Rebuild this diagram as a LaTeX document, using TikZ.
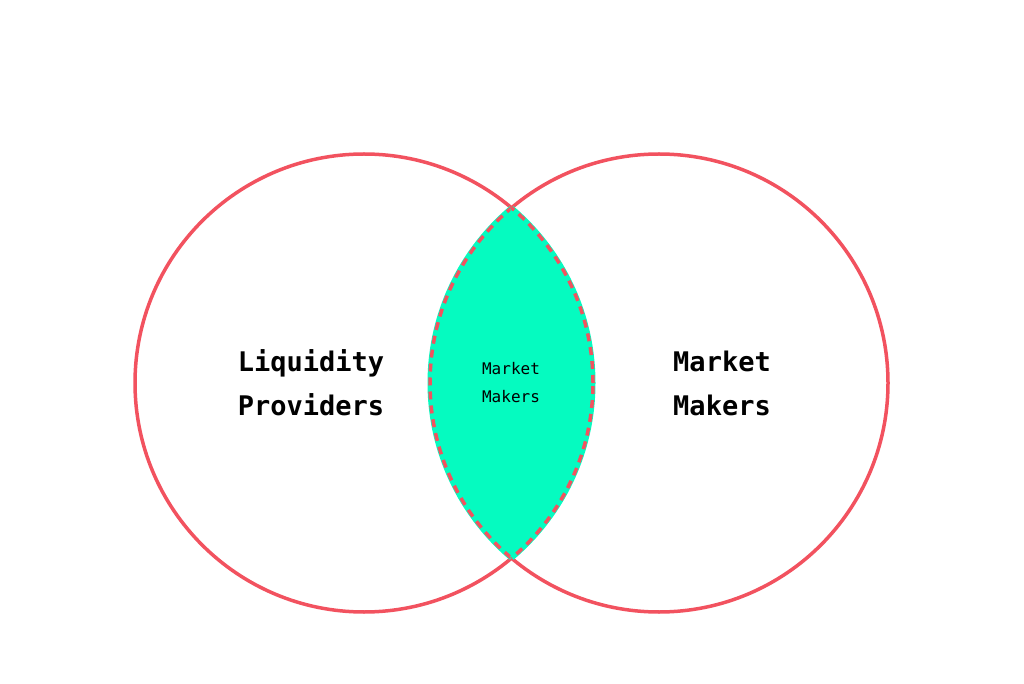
\documentclass[tikz,border=0pt]{standalone}
\usepackage{fontspec}
\setmonofont{DejaVu Sans Mono}
\definecolor{cred}{HTML}{F2525F}
\definecolor{cgreen}{HTML}{05FBC0}
\begin{document}
\begin{tikzpicture}[x=1pt,y=1pt,
  ring/.style={draw=cred,line width=3.5pt},
  big/.style={font=\ttfamily\bfseries\fontsize{27}{44}\selectfont,align=left},
  small/.style={font=\ttfamily\fontsize{16}{28}\selectfont,align=center}]
\useasboundingbox (0,0) rectangle (1024,683);
\coordinate (cl) at (364,300);
\coordinate (cr) at (659,300);
\draw[ring] (cl) circle (229);
\draw[ring] (cr) circle (229);
\begin{scope}
  \clip (cl) circle (229);
  \fill[cgreen] (cr) circle (229);
  \draw[cgreen,line width=5pt] (cr) circle (229);
  \draw[cred,line width=3.5pt,dash pattern=on 8pt off 6pt] (cr) circle (229);
\end{scope}
\begin{scope}
  \clip (cr) circle (229);
  \draw[cgreen,line width=5pt] (cl) circle (229);
  \draw[cred,line width=3.5pt,dash pattern=on 8pt off 6pt] (cl) circle (229);
\end{scope}
\node[big] (lp) at (311,300) {Liquidity\\Providers};
\node[big] (mm) at (722,300) {Market\\Makers};
\node[small] (mid) at (511,300) {Market\\Makers};
\end{tikzpicture}
\end{document}
